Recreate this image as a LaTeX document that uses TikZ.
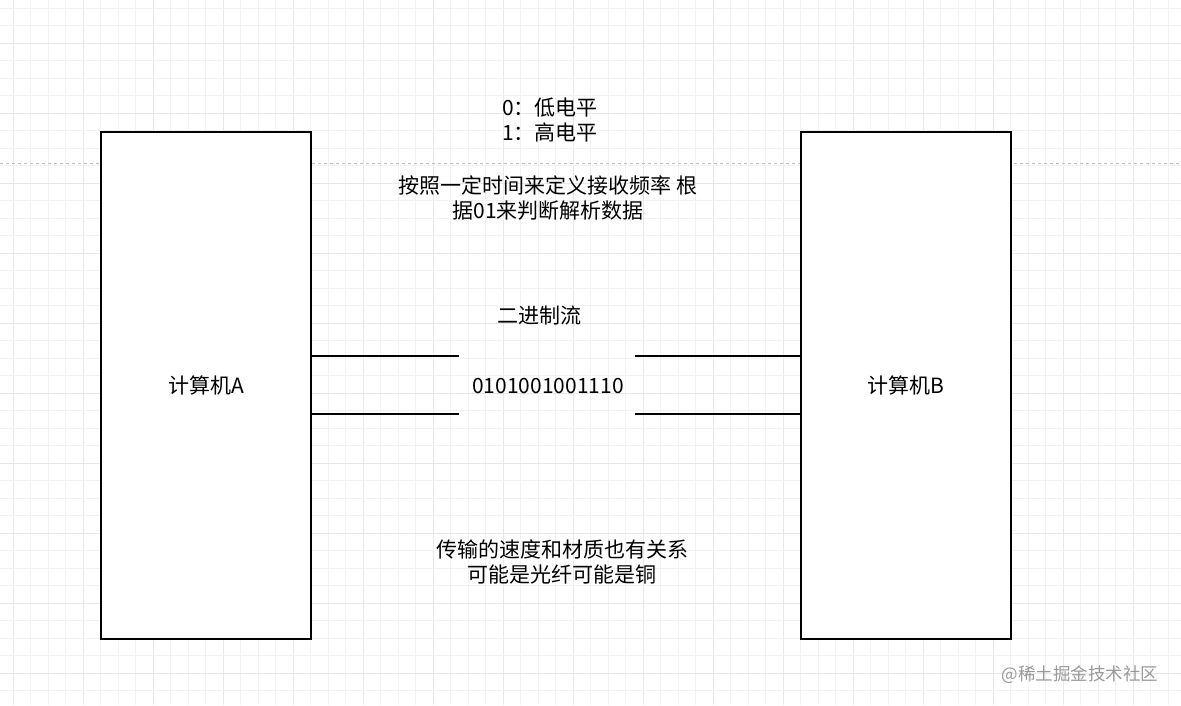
\documentclass[tikz,border=0pt]{standalone}
\usepackage{fontspec}
\setmainfont{Noto Sans CJK SC}
\begin{document}
\begin{tikzpicture}[x=1pt,y=-1pt,
  txt/.style={inner sep=0pt,align=center,font=\fontsize{21}{25}\selectfont,text=black},
  pc/.style={draw=black,line width=1.6pt,fill=white,minimum width=210pt,minimum height=507pt,inner sep=0pt,font=\fontsize{21}{25}\selectfont},
  wire/.style={draw=black,line width=1.3pt},
  minorgrid/.style={draw=black!5,line width=0.8pt},
  majorgrid/.style={draw=black!9,line width=0.8pt}]
\useasboundingbox (0,0) rectangle (1181,705);
\fill[white] (0,0) rectangle (1181,705);
% grid
\foreach \k in {0,...,67} {
  \pgfmathsetmacro{\xx}{13+17.5*\k}
  \pgfmathtruncatemacro{\m}{mod(\k,4)}
  \ifnum\m=0 \draw[majorgrid] (\xx,0) -- (\xx,705); \else \draw[minorgrid] (\xx,0) -- (\xx,705); \fi
}
\foreach \k in {0,...,40} {
  \pgfmathsetmacro{\yy}{8.3+17.5*\k}
  \pgfmathtruncatemacro{\m}{mod(\k+2,4)}
  \ifnum\m=0 \draw[majorgrid] (0,\yy) -- (1181,\yy); \else \draw[minorgrid] (0,\yy) -- (1181,\yy); \fi
}
% dashed guide
\draw[black!25,line width=0.8pt,dash pattern=on 3pt off 3pt] (0,163) -- (1181,163);
% computers
\node[pc] (A) at (206,385.5) {计算机A};
\node[pc] (B) at (906,385.5) {计算机B};
% wires
\coordinate (w1) at (459,356);
\coordinate (w2) at (459,414);
\coordinate (w3) at (635,356);
\coordinate (w4) at (635,414);
\draw[wire] (A.east |- w1) -- (w1);
\draw[wire] (A.east |- w2) -- (w2);
\draw[wire] (w3) -- (B.west |- w3);
\draw[wire] (w4) -- (B.west |- w4);
% texts
\node[txt] (levels) at (550,120.5) {0：低电平\\1：高电平};
\node[txt] (desc) at (548,198.5) {按照一定时间来定义接收频率 根\\据01来判断解析数据};
\node[txt] (stream) at (539,316) {二进制流};
\node[txt] (bits) at (548,386) {0101001001110};
\node[txt] (speed) at (562,561.5) {传输的速度和材质也有关系\\可能是光纤可能是铜};
\node[inner sep=0pt,font=\fontsize{17.5}{20}\selectfont,text=black!40] (wm) at (1080,675) {@稀土掘金技术社区};
\end{tikzpicture}
\end{document}
